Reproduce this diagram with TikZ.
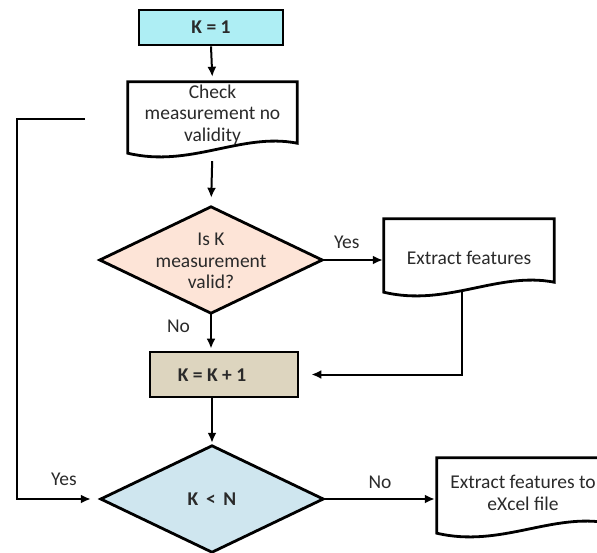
\documentclass[tikz,border=0pt]{standalone}
\usepackage{fontspec}
\setmainfont{Carlito}
\usetikzlibrary{calc,arrows.meta}
\definecolor{konec}{HTML}{AEEEF4}
\definecolor{kplusc}{HTML}{DDD5BF}
\definecolor{dec1c}{HTML}{FDE4D7}
\definecolor{dec2c}{HTML}{CFE6EF}
\definecolor{txtc}{HTML}{2A2A2A}
\tikzset{
  boxline/.style={line width=2.8pt, draw=black, line join=miter},
  proc/.style={boxline, inner sep=0pt, font=\bfseries, text=txtc},
  docnode/.style={inner sep=0pt, align=center, text=txtc},
  decnode/.style={inner sep=0pt, align=center, text=txtc, minimum width=222pt, minimum height=106pt},
  conn/.style={line width=2pt, draw=black, -{Latex[length=10pt,width=9pt]}},
  lbl/.style={text=txtc, inner sep=0pt}
}
\newcommand{\docoutline}[1]{%
  \draw[boxline, fill=white] (#1.north west) -- (#1.north east)
    -- ($(#1.south east)+(0,-5)$)
    .. controls ($(#1.south east)!0.33!(#1.south west)+(0,-16)$)
    and ($(#1.south east)!0.63!(#1.south west)+(0,20)$)
    .. ($(#1.south west)+(0,5)$) -- cycle;}
\newcommand{\diamondoutline}[2]{%
  \draw[boxline, fill=#2] (#1.north) -- (#1.east) -- (#1.south) -- (#1.west) -- cycle;}
\begin{document}
\begin{tikzpicture}[x=1pt,y=-1pt]
\fontsize{19.5}{21.5}\selectfont
\useasboundingbox (0,0) rectangle (597,552);
% K = 1
\node[proc, fill=konec, minimum width=144pt, minimum height=35pt] (k1) at (211,27.5) {K = 1};
% check document
\node[docnode, minimum width=169pt, minimum height=66pt] (chk) at (212.5,115) {};
\docoutline{chk}
\node[docnode] (chkt) at (212.5,114.5) {Check\\measurement no\\validity};
% decision 1
\node[decnode] (d1) at (211,260) {};
\diamondoutline{d1}{dec1c}
\node[docnode] (d1t) at (211,261) {Is K\\measurement\\valid?};
% extract features
\node[docnode, minimum width=170pt, minimum height=68pt] (ef) at (469,253) {};
\docoutline{ef}
\node[docnode] (eft) at (469,258) {Extract features};
% K = K + 1
\node[proc, fill=kplusc, minimum width=148pt, minimum height=45pt] (kp) at (224,374.5) {};
\node[lbl, font=\bfseries] (kpt) at (212,375) {K = K + 1};
% decision 2
\node[decnode] (d2) at (212,499) {};
\diamondoutline{d2}{dec2c}
\node[docnode, font=\bfseries] (d2t) at (212,499) {K \,<\, N};
% excel document
\node[docnode, minimum width=172pt, minimum height=70pt] (xl) at (523,493) {};
\docoutline{xl}
\node[docnode] (xlt) at (523,493) {Extract features to\\eXcel file};
% connectors
\draw[conn, shorten >=5pt] (k1.south) -- (chk.north);
\draw[conn, shorten <=13pt, shorten >=9pt] (chk.south) -- (d1.north);
\draw[conn, shorten >=1pt] (d1.east) -- node[lbl, above=10pt, pos=0.4] (yes1) {Yes} (d1.east -| ef.west);
\draw[conn, shorten >=2pt] (d1.south) -- node[lbl, left=20pt, pos=0.35] (no1) {No} (kp.north -| d1.south);
\coordinate (efb) at ($(ef.south)+(-7,4)$);
\draw[conn, shorten >=12pt] (efb) |- (kp.east);
\draw[conn, shorten >=3pt] (kp.south -| d2.north) -- (d2.north);
\draw[conn, shorten >=2pt] (d2.east) -- node[lbl, above=9pt] (no2) {No} (d2.east -| xl.west);
\coordinate (lp) at (85,119);
\draw[conn, shorten >=10pt] (lp) -- (17,119) |- node[lbl, pos=0.78, above=12pt] (yes2) {Yes} (d2.west);
\end{tikzpicture}
\end{document}
